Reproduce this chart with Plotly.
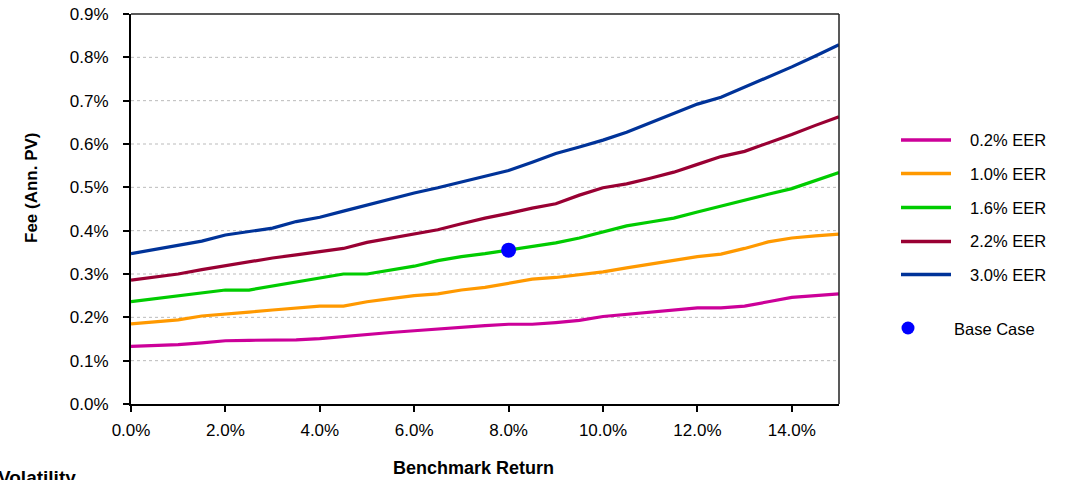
import plotly.graph_objects as go

benchmark_return = [i * 0.5 for i in range(31)]  # in %

eer_labels = ["0.2% EER", "1.0% EER", "1.6% EER", "2.2% EER", "3.0% EER"]
eer_colors = ["#CC0099", "#FF9900", "#00CC00", "#990033", "#003399"]

fee_02 = [0.133, 0.135, 0.137, 0.141, 0.146, 0.147, 0.147, 0.148, 0.151, 0.156, 0.160,
          0.165, 0.169, 0.173, 0.178, 0.181, 0.184, 0.184, 0.188, 0.193, 0.202,
          0.207, 0.212, 0.217, 0.222, 0.222, 0.226, 0.236, 0.246, 0.250, 0.254]
fee_10 = [0.185, 0.189, 0.194, 0.203, 0.207, 0.212, 0.217, 0.222, 0.226, 0.226, 0.236,
          0.243, 0.250, 0.254, 0.263, 0.269, 0.278, 0.288, 0.292, 0.299, 0.305,
          0.314, 0.323, 0.332, 0.340, 0.346, 0.359, 0.374, 0.383, 0.388, 0.392]
fee_16 = [0.236, 0.243, 0.249, 0.256, 0.263, 0.263, 0.272, 0.282, 0.291, 0.300, 0.300,
          0.309, 0.318, 0.331, 0.340, 0.347, 0.355, 0.363, 0.372, 0.383, 0.397,
          0.411, 0.420, 0.429, 0.443, 0.457, 0.470, 0.484, 0.497, 0.515, 0.534]
fee_22 = [0.286, 0.293, 0.300, 0.310, 0.319, 0.328, 0.337, 0.344, 0.351, 0.359, 0.373,
          0.383, 0.393, 0.402, 0.416, 0.429, 0.440, 0.452, 0.462, 0.482, 0.499,
          0.508, 0.521, 0.535, 0.553, 0.571, 0.583, 0.602, 0.622, 0.643, 0.663]
fee_30 = [0.347, 0.357, 0.367, 0.376, 0.390, 0.398, 0.406, 0.421, 0.431, 0.445, 0.459,
          0.473, 0.487, 0.499, 0.512, 0.525, 0.539, 0.558, 0.578, 0.593, 0.609,
          0.627, 0.649, 0.670, 0.692, 0.708, 0.731, 0.754, 0.778, 0.803, 0.829]
series = [fee_02, fee_10, fee_16, fee_22, fee_30]

base_case_x = [8.0]
base_case_y = [0.355]
base_case_label = "Base Case"

x_ticks = [0, 2, 4, 6, 8, 10, 12, 14]
x_tick_text = ["0.0%", "2.0%", "4.0%", "6.0%", "8.0%", "10.0%", "12.0%", "14.0%"]
y_ticks = [0.0, 0.1, 0.2, 0.3, 0.4, 0.5, 0.6, 0.7, 0.8, 0.9]
y_tick_text = ["0.0%", "0.1%", "0.2%", "0.3%", "0.4%", "0.5%", "0.6%", "0.7%", "0.8%", "0.9%"]

FONT = "Liberation Sans, Arial, sans-serif"
W, H = 1068, 480
L, R, T, B = 131, 229, 14, 76

fig = go.Figure()
for name, vals, col in zip(eer_labels, series, eer_colors):
    fig.add_trace(go.Scatter(x=benchmark_return, y=vals, mode="lines", name=name,
                             line=dict(color=col, width=3.2), showlegend=False))
fig.add_trace(go.Scatter(x=base_case_x, y=base_case_y, mode="markers", name=base_case_label,
                         marker=dict(color="#0000FF", size=15, line=dict(width=0)),
                         showlegend=False))

# gridlines (dotted)
shapes = []
for v in y_ticks[1:-1]:
    shapes.append(dict(type="line", xref="paper", yref="y", x0=0, x1=1, y0=v, y1=v,
                       line=dict(color="#BBBBBB", width=1, dash="dot"), layer="below"))
# frame (top, right thin)
shapes.append(dict(type="line", xref="paper", yref="paper", x0=0, x1=1, y0=1, y1=1,
                   line=dict(color="#222222", width=1.5)))
shapes.append(dict(type="line", xref="paper", yref="paper", x0=1, x1=1, y0=0, y1=1,
                   line=dict(color="#222222", width=1.5)))

# manual legend
pw = W - L - R
ph = H - T - B
def px_x(x):
    return (x - L) / pw
def px_y(y):
    return (H - B - y) / ph

annotations = []
legend_rows = [140, 173.5, 207.5, 241.5, 274.5]
for name, col, yy in zip(eer_labels, eer_colors, legend_rows):
    shapes.append(dict(type="line", xref="paper", yref="paper",
                       x0=px_x(901), x1=px_x(951), y0=px_y(yy), y1=px_y(yy),
                       line=dict(color=col, width=3.5)))
    annotations.append(dict(xref="paper", yref="paper", x=px_x(968), y=px_y(yy),
                            text=name, showarrow=False, xanchor="left", yanchor="middle",
                            font=dict(family=FONT, size=16.5, color="#000000")))
shapes.append(dict(type="circle", xref="paper", yref="paper",
                   x0=px_x(901.5), x1=px_x(914.5), y0=px_y(334.5), y1=px_y(321.5),
                   fillcolor="#0000FF", line=dict(width=0)))
annotations.append(dict(xref="paper", yref="paper", x=px_x(952), y=px_y(328.5),
                        text=base_case_label, showarrow=False, xanchor="left", yanchor="middle",
                        font=dict(family=FONT, size=16.5, color="#000000")))

# axis titles
annotations.append(dict(xref="paper", yref="paper", x=px_x(473), y=px_y(468),
                        text="<b>Benchmark Return</b>", showarrow=False,
                        xanchor="center", yanchor="middle",
                        font=dict(family=FONT, size=18, color="#000000")))
annotations.append(dict(xref="paper", yref="paper", x=px_x(31), y=px_y(188),
                        text="<b>Fee (Ann. PV)</b>", showarrow=False, textangle=-90,
                        xanchor="center", yanchor="middle",
                        font=dict(family=FONT, size=17, color="#000000")))
annotations.append(dict(xref="paper", yref="paper", x=px_x(-4), y=px_y(477),
                        text="<b>Volatility</b>", showarrow=False,
                        xanchor="left", yanchor="middle",
                        font=dict(family=FONT, size=19, color="#000000")))

fig.update_layout(
    width=W, height=H,
    margin=dict(l=L, r=R, t=T, b=B, pad=0, autoexpand=False),
    paper_bgcolor="#FFFFFF", plot_bgcolor="#FFFFFF",
    font=dict(family=FONT, size=14, color="#000000"),
    shapes=shapes, annotations=annotations,
    showlegend=False,
    xaxis=dict(range=[0, 15], tickvals=x_ticks, ticktext=x_tick_text, automargin=False,
               showgrid=False, zeroline=False, showline=True, linecolor="#000000",
               linewidth=2, ticks="outside", ticklen=6, tickwidth=1.5, tickcolor="#000000",
               tickfont=dict(family=FONT, size=17), ticklabelstandoff=4),
    yaxis=dict(range=[0, 0.9], tickvals=y_ticks, ticktext=y_tick_text, automargin=False,
               showgrid=False, zeroline=False, showline=True, linecolor="#000000",
               linewidth=2, ticks="outside", ticklen=6, tickwidth=1.5, tickcolor="#000000",
               tickfont=dict(family=FONT, size=17), ticklabelstandoff=11),
)

fig.write_html("out.html", config={"displayModeBar": False},
               post_script="document.body.style.margin='0';")
